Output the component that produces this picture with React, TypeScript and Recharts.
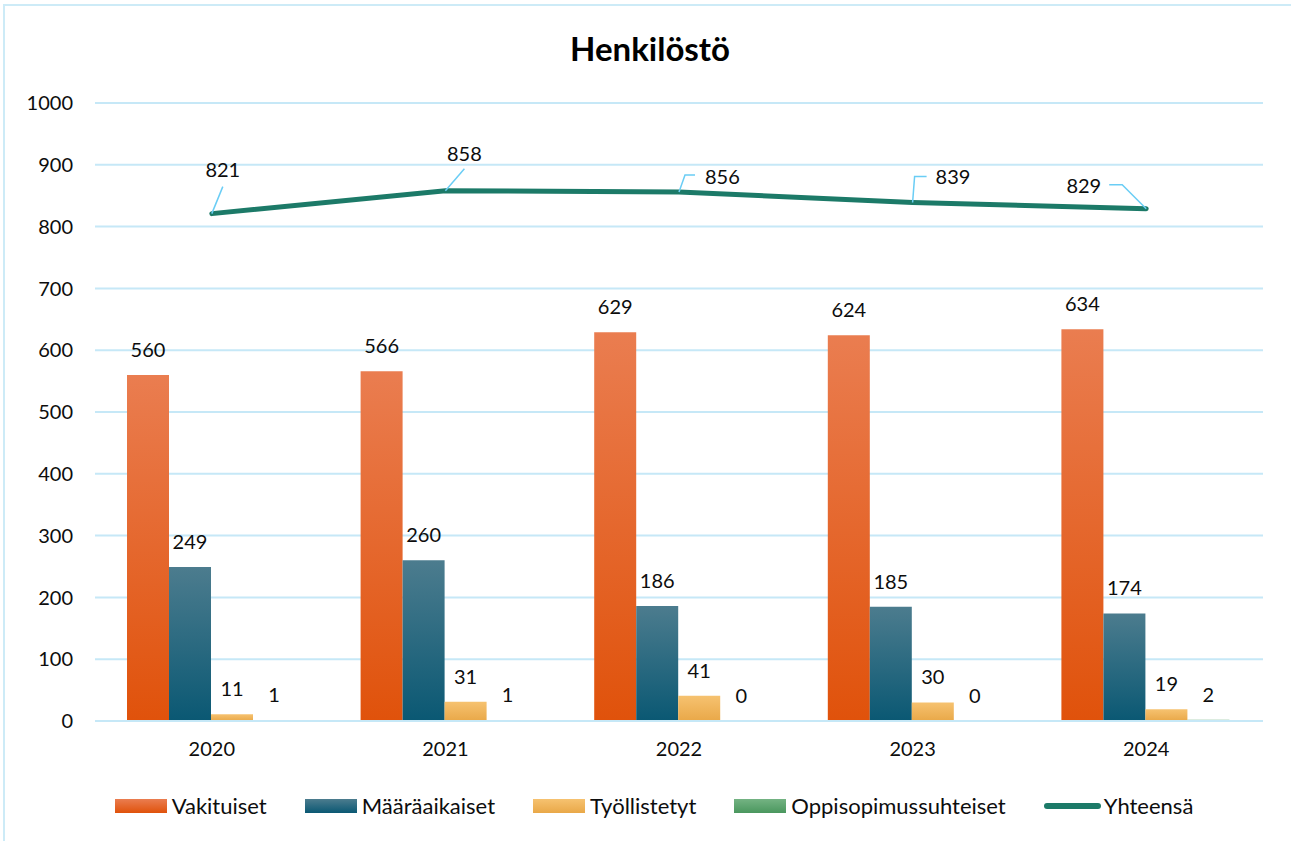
import React from 'react';
import { ComposedChart, Bar, Line, XAxis, YAxis, CartesianGrid, LabelList } from 'recharts';

const years = ['2020', '2021', '2022', '2023', '2024'];
const vakituiset = [560, 566, 629, 624, 634];
const maaraaikaiset = [249, 260, 186, 185, 174];
const tyollistetyt = [11, 31, 41, 30, 19];
const oppisopimus = [1, 1, 0, 0, 2];
const yhteensa = [821, 858, 856, 839, 829];
const yTicks = [0, 100, 200, 300, 400, 500, 600, 700, 800, 900, 1000];
const title = 'Henkilöstö';

const seriesNames = {
  vakituiset: 'Vakituiset',
  maaraaikaiset: 'Määräaikaiset',
  tyollistetyt: 'Työllistetyt',
  oppisopimus: 'Oppisopimussuhteiset',
  yhteensa: 'Yhteensä',
};

const data = years.map((y, i) => ({
  year: y,
  vakituiset: vakituiset[i],
  maaraaikaiset: maaraaikaiset[i],
  tyollistetyt: tyollistetyt[i],
  oppisopimus: oppisopimus[i],
  yhteensa: yhteensa[i],
}));

const FONT = "Lato, 'Open Sans', sans-serif";
const GRID = '#C6E8F7';
const LEADER = '#6ACDF5';
const LINE = '#1C7A68';

const gradients = [
  { id: 'gVak', top: '#EA7D50', bottom: '#E0520B' },
  { id: 'gMaa', top: '#4C7C8E', bottom: '#0A5873' },
  { id: 'gTyo', top: '#F6C270', bottom: '#E9A848' },
  { id: 'gOpp', top: '#74B383', bottom: '#4A975E' },
];

const BarLabel = (props: any) => {
  const { x, y, width, height, value } = props;
  const top = Math.min(y, y + (height || 0));
  return (
    <text x={x + width / 2} y={top - 26} textAnchor="middle" dominantBaseline="central"
      fontFamily={FONT} fontSize={20} fill="#0D0D0D">{value}</text>
  );
};

// leader-line layouts for the total line labels (style only)
const leaderLayouts = [
  { pts: [[11, -27]], tx: 11, ty: -45, anchor: 'middle' },
  { pts: [[19, -22]], tx: 19, ty: -38, anchor: 'middle' },
  { pts: [[6, -17], [16, -17]], tx: 26, ty: -16, anchor: 'start' },
  { pts: [[2, -26], [14, -26]], tx: 23, ty: -26, anchor: 'start' },
  { pts: [[-24, -24], [-37, -24]], tx: -45, ty: -24, anchor: 'end' },
];

const LineLabel = (props: any) => {
  const { x, y, value, index } = props;
  const l = leaderLayouts[index] || leaderLayouts[0];
  const pts = [[x, y], ...l.pts.map(([dx, dy]) => [x + dx, y + dy])];
  return (
    <g>
      <polyline points={pts.map((p) => p.join(',')).join(' ')} fill="none" stroke={LEADER} strokeWidth={1.5} />
      <text x={x + l.tx} y={y + l.ty} textAnchor={l.anchor as any} dominantBaseline="central"
        fontFamily={FONT} fontSize={20} fill="#0D0D0D">{value}</text>
    </g>
  );
};

const legendItems = [
  { name: seriesNames.vakituiset, grad: gradients[0], type: 'rect' },
  { name: seriesNames.maaraaikaiset, grad: gradients[1], type: 'rect' },
  { name: seriesNames.tyollistetyt, grad: gradients[2], type: 'rect' },
  { name: seriesNames.oppisopimus, grad: gradients[3], type: 'rect' },
  { name: seriesNames.yhteensa, grad: null, type: 'line' },
];

export default function App() {
  return (
    <div style={{ position: 'fixed', left: 0, top: 0, width: 1291, height: 841, overflow: 'hidden', background: '#fff', fontFamily: FONT }}>
      <div style={{ position: 'absolute', left: 3, top: 4, width: 1400, height: 900, border: '2px solid #CDEBF7', boxSizing: 'border-box' }} />
      <div style={{ position: 'absolute', left: 0, top: 27, width: 1300, textAlign: 'center', fontSize: 33, fontWeight: 700, color: '#000', lineHeight: '42px' }}>{title}</div>
      <div style={{ position: 'absolute', left: 0, top: 0 }}>
        <ComposedChart width={1291} height={841} data={data} margin={{ top: 103, right: 28, bottom: 90, left: 15 }}
          barCategoryGap="13.7%" barGap={0}>
          <defs>
            {gradients.map((g) => (
              <linearGradient key={g.id} id={g.id} x1="0" y1="0" x2="0" y2="1">
                <stop offset="0%" stopColor={g.top} />
                <stop offset="100%" stopColor={g.bottom} />
              </linearGradient>
            ))}
          </defs>
          <CartesianGrid vertical={false} stroke={GRID} strokeWidth={2} />
          <XAxis dataKey="year" axisLine={{ stroke: GRID, strokeWidth: 2 }} tickLine={false} tickSize={0} tickMargin={21} height={30}
            tick={{ fontFamily: FONT, fontSize: 20, fill: '#0D0D0D' }} />
          <YAxis domain={[0, 1000]} ticks={yTicks} axisLine={false} tickLine={false} tickSize={0} tickMargin={22} width={80}
            tick={{ fontFamily: FONT, fontSize: 20, fill: '#0D0D0D' }} interval={0} />
          <Bar dataKey="vakituiset" name={seriesNames.vakituiset} fill="url(#gVak)" isAnimationActive={false}>
            <LabelList dataKey="vakituiset" content={BarLabel} />
          </Bar>
          <Bar dataKey="maaraaikaiset" name={seriesNames.maaraaikaiset} fill="url(#gMaa)" isAnimationActive={false}>
            <LabelList dataKey="maaraaikaiset" content={BarLabel} />
          </Bar>
          <Bar dataKey="tyollistetyt" name={seriesNames.tyollistetyt} fill="url(#gTyo)" isAnimationActive={false}>
            <LabelList dataKey="tyollistetyt" content={BarLabel} />
          </Bar>
          <Bar dataKey="oppisopimus" name={seriesNames.oppisopimus} fill="url(#gOpp)" minPointSize={0.01} isAnimationActive={false}>
            <LabelList dataKey="oppisopimus" content={BarLabel} />
          </Bar>
          <Line dataKey="yhteensa" name={seriesNames.yhteensa} stroke={LINE} strokeWidth={5} dot={false} strokeLinecap="round"
            isAnimationActive={false}>
            <LabelList dataKey="yhteensa" content={LineLabel} />
          </Line>
        </ComposedChart>
      </div>
      <div style={{ position: 'absolute', left: 0, top: 794, width: 1308, display: 'flex', justifyContent: 'center', alignItems: 'center', gap: 38, fontSize: 22, color: '#0D0D0D', lineHeight: '24px' }}>
        {legendItems.map((it) => (
          <div key={it.name} style={{ display: 'flex', alignItems: 'center', gap: it.type === 'rect' ? 5 : 3 }}>
            {it.type === 'rect' ? (
              <div style={{ width: 52, height: 14, background: `linear-gradient(${it.grad!.top}, ${it.grad!.bottom})` }} />
            ) : (
              <div style={{ width: 57, height: 6, borderRadius: 3, background: LINE }} />
            )}
            <span>{it.name}</span>
          </div>
        ))}
      </div>
    </div>
  );
}
